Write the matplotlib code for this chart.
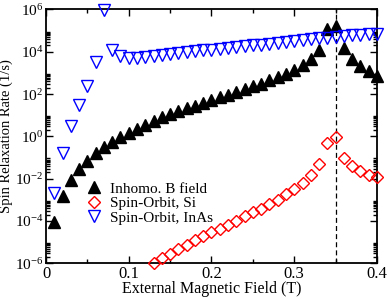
"""
Spin relaxation rate vs external magnetic field (log scale).
"""

import matplotlib
matplotlib.use("Agg")
import matplotlib.pyplot as plt
from matplotlib.ticker import FixedLocator, MultipleLocator, LogFormatterMathtext

plt.rcParams["font.family"] = ["Liberation Serif", "DejaVu Serif"]
plt.rcParams["mathtext.fontset"] = "custom"
plt.rcParams["mathtext.rm"] = "Liberation Serif"

# --- Data ---
field_all = [0.01, 0.02, 0.03, 0.04, 0.05, 0.06, 0.07, 0.08, 0.09, 0.10,
             0.11, 0.12, 0.13, 0.14, 0.15, 0.16, 0.17, 0.18, 0.19, 0.20,
             0.21, 0.22, 0.23, 0.24, 0.25, 0.26, 0.27, 0.28, 0.29, 0.30,
             0.31, 0.32, 0.33, 0.34, 0.35, 0.36, 0.37, 0.38, 0.39, 0.40]

inhomo_rate = [9.3e-5, 1.5e-3, 8.7e-3, 2.8e-2, 7.1e-2, 0.16, 0.32, 0.56, 0.98, 1.5,
               2.2, 3.5, 5.2, 7.9, 11, 16, 21, 27, 38, 52,
               71, 91, 129, 170, 229, 295, 447, 617, 891, 1380,
               2400, 4470, 1.26e4, 1.15e5, 1.66e5, 1.48e4, 4470, 2190, 1290, 724]

inas_rate = [2.0e-3, 0.17, 3.1, 30, 250, 3400, 9.5e5, 1.23e4, 6600, 5200,
             5200, 5900, 6600, 7200, 7900, 8700, 9500, 1.05e4, 1.15e4, 1.26e4,
             1.38e4, 1.51e4, 1.66e4, 1.82e4, 2.0e4, 2.2e4, 2.45e4, 2.7e4, 2.95e4, 3.2e4,
             3.55e4, 3.9e4, 4.25e4, 4.7e4, 5.1e4, 5.5e4, 5.9e4, 6.3e4, 6.8e4, 7.2e4]

field_si = [0.13, 0.14, 0.15, 0.16, 0.17, 0.18, 0.19, 0.20, 0.21, 0.22,
            0.23, 0.24, 0.25, 0.26, 0.27, 0.28, 0.29, 0.30, 0.31, 0.32,
            0.33, 0.34, 0.35, 0.36, 0.37, 0.38, 0.39, 0.40]

si_rate = [1.0e-6, 1.7e-6, 2.7e-6, 4.6e-6, 7.4e-6, 1.26e-5, 1.9e-5, 2.95e-5, 4.2e-5, 6.5e-5,
           1.02e-4, 1.74e-4, 2.6e-4, 3.7e-4, 6.3e-4, 9.8e-4, 1.8e-3, 3.2e-3, 6.0e-3, 1.48e-2,
           4.8e-2, 0.50, 0.91, 9.1e-2, 4.0e-2, 2.3e-2, 1.48e-2, 1.17e-2]

resonance_field = 0.35
series_labels = ["Inhomo. B field", "Spin-Orbit, Si", "Spin-Orbit, InAs"]

# --- Plot ---
fig = plt.figure(figsize=(3.88, 2.99), dpi=100)
ax = fig.add_axes([0.1186, 0.1194, 0.853, 0.849])

ax.plot(field_all, inhomo_rate, ls="none", marker="^", ms=8.5, color="black",
        label=series_labels[0], clip_on=False, zorder=3)
ax.plot(field_si, si_rate, ls="none", marker="D", ms=5.8, mfc="none", mec="red",
        mew=1.0, label=series_labels[1], clip_on=False, zorder=3)
ax.plot(field_all, inas_rate, ls="none", marker="v", ms=8.5, mfc="none", mec="blue",
        mew=1.0, label=series_labels[2], clip_on=False, zorder=3)

ax.axvline(resonance_field, color="black", ls=(0, (4, 2.5)), lw=0.9, zorder=2)

ax.set_yscale("log")
ax.set_xlim(0, 0.4)
ax.set_ylim(1e-6, 1e6)

ax.xaxis.set_major_locator(MultipleLocator(0.1))
ax.xaxis.set_minor_locator(MultipleLocator(0.05))
ax.xaxis.set_major_formatter(plt.FuncFormatter(lambda v, p: "0" if abs(v) < 1e-9 else f"{v:.1f}"))

ax.yaxis.set_major_locator(FixedLocator([1e-6, 1e-4, 1e-2, 1e0, 1e2, 1e4, 1e6]))
ax.yaxis.set_major_formatter(LogFormatterMathtext())
ax.yaxis.set_minor_locator(FixedLocator([k * 10.0 ** e for e in (-6, -4, -2, 0, 2, 4) for k in range(2, 10)]))
ax.yaxis.set_minor_formatter(plt.NullFormatter())

ax.tick_params(which="both", direction="in", top=True, right=True, width=1.0)
ax.tick_params(which="major", length=5)
ax.tick_params(which="minor", length=3)
ax.tick_params(axis="x", pad=2, labelsize=12)
ax.tick_params(axis="y", pad=2, labelsize=11)
for side in ax.spines.values():
    side.set_linewidth(1.3)

ax.set_xlabel("External Magnetic Field (T)", fontsize=11.5, labelpad=-1)
ax.set_ylabel("Spin Relaxation Rate (1/s)", fontsize=10.5)
ax.yaxis.set_label_coords(-0.099, 0.5)

ax.legend(loc="upper left", bbox_to_anchor=(0.10, 0.35), frameon=False, fontsize=11,
          handlelength=1.0, handletextpad=0.5, labelspacing=0.05, borderpad=0)

fig.savefig("out.png", dpi=100)
